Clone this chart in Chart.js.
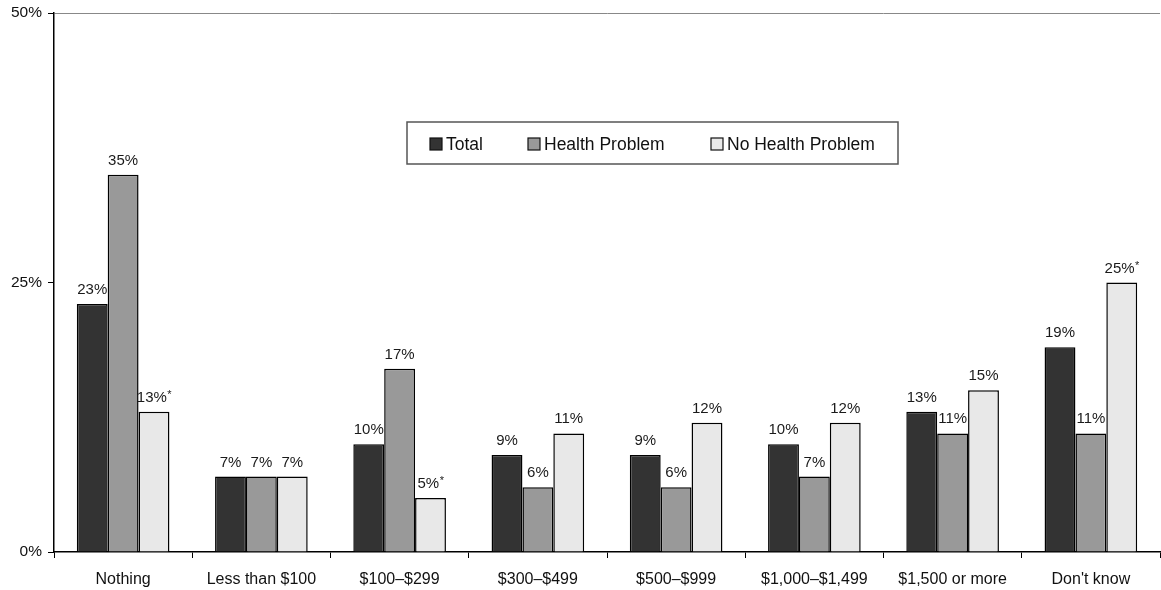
<!DOCTYPE html>
<html>
<head>
<meta charset="utf-8">
<script src="https://cdn.jsdelivr.net/npm/chart.js@4"></script>
<style>
  html, body { margin: 0; padding: 0; background: #fff; }
  #wrap { width: 1161px; height: 590px; position: relative; }
</style>
</head>
<body>
<div id="wrap"><canvas id="spendChart"></canvas></div>
<script>
// Data
const categories = ["Nothing", "Less than $100", "$100\u2013$299", "$300\u2013$499", "$500\u2013$999", "$1,000\u2013$1,499", "$1,500 or more", "Don't know"];
const totalValues = [23, 7, 10, 9, 9, 10, 13, 19];
const healthValues = [35, 7, 17, 6, 6, 7, 11, 11];
const noHealthValues = [13, 7, 5, 11, 12, 12, 15, 25];
// asterisk marks on the "No Health Problem" labels
const noHealthStars = [true, false, true, false, false, false, false, true];
const yTicks = [0, 25, 50];

const FONT = "'Liberation Sans', Arial, Helvetica, sans-serif";

// Draw value labels above each bar
const valueLabels = {
  id: 'valueLabels',
  afterDatasetsDraw(chart) {
    const ctx = chart.ctx;
    ctx.save();
    ctx.fillStyle = '#1a1a1a';
    ctx.textBaseline = 'alphabetic';
    chart.data.datasets.forEach((ds, di) => {
      const meta = chart.getDatasetMeta(di);
      meta.data.forEach((bar, i) => {
        const txt = ds.data[i] + '%';
        const star = ds.stars && ds.stars[i];
        ctx.font = '15px ' + FONT;
        const w = ctx.measureText(txt).width;
        ctx.font = '11px ' + FONT;
        const sw = star ? ctx.measureText('*').width : 0;
        const x0 = bar.x - (w + sw) / 2;
        const y = bar.y - 10;
        ctx.font = '15px ' + FONT;
        ctx.textAlign = 'left';
        ctx.fillText(txt, x0, y);
        if (star) {
          ctx.font = '11px ' + FONT;
          ctx.fillText('*', x0 + w + 0.5, y - 4);
        }
      });
    });
    ctx.restore();
  }
};

// Boxed legend in the middle of the plot
const boxLegend = {
  id: 'boxLegend',
  afterDraw(chart) {
    const ctx = chart.ctx;
    ctx.save();
    ctx.strokeStyle = '#555';
    ctx.lineWidth = 1.5;
    ctx.strokeRect(407, 122, 491, 42);
    const itemX = [430, 528, 711];
    ctx.font = '17.5px ' + FONT;
    ctx.textBaseline = 'middle';
    ctx.textAlign = 'left';
    chart.data.datasets.forEach((ds, i) => {
      ctx.fillStyle = ds.backgroundColor;
      ctx.fillRect(itemX[i], 138, 12, 12);
      ctx.strokeStyle = '#111';
      ctx.lineWidth = 1.2;
      ctx.strokeRect(itemX[i], 138, 12, 12);
      ctx.fillStyle = '#111';
      ctx.fillText(ds.label, itemX[i] + 16, 145);
    });
    ctx.restore();
  }
};

new Chart(document.getElementById('spendChart'), {
  type: 'bar',
  data: {
    labels: categories,
    datasets: [
      { label: 'Total', data: totalValues, backgroundColor: '#333333' },
      { label: 'Health Problem', data: healthValues, backgroundColor: '#999999' },
      { label: 'No Health Problem', data: noHealthValues, backgroundColor: '#e8e8e8', stars: noHealthStars }
    ].map(d => Object.assign(d, { borderColor: '#000', borderWidth: 1.5, categoryPercentage: 0.67, barPercentage: 1.0 }))
  },
  options: {
    responsive: true,
    maintainAspectRatio: false,
    animation: false,
    layout: { padding: { top: 13, right: 1, left: 0, bottom: 0 } },
    plugins: {
      legend: { display: false },
      tooltip: { enabled: false }
    },
    scales: {
      x: {
        offset: true,
        grid: {
          offset: true,
          drawOnChartArea: false,
          drawTicks: true,
          tickLength: 6,
          color: '#000'
        },
        border: { color: '#000', width: 1.5 },
        ticks: { color: '#111', font: { family: FONT, size: 16 }, padding: 12, maxRotation: 0, autoSkip: false },
        afterFit(scale) { scale.height = 38; scale.paddingLeft = 0; scale.paddingRight = 0; }
      },
      y: {
        min: 0,
        max: 50,
        afterBuildTicks(scale) { scale.ticks = yTicks.map(v => ({ value: v })); },
        grid: {
          drawTicks: true,
          tickLength: 6,
          color: ctx => (ctx.tick && ctx.tick.value === 50) ? '#888' : 'rgba(0,0,0,0)',
          tickColor: '#000'
        },
        border: { color: '#000', width: 1.5 },
        ticks: {
          color: '#111',
          font: { family: FONT, size: 15.5 },
          padding: 6,
          callback: v => v + '%'
        },
        afterFit(scale) { scale.width = 54; scale.paddingTop = 0; scale.paddingBottom = 0; }
      }
    }
  },
  plugins: [valueLabels, boxLegend]
});
</script>
</body>
</html>
